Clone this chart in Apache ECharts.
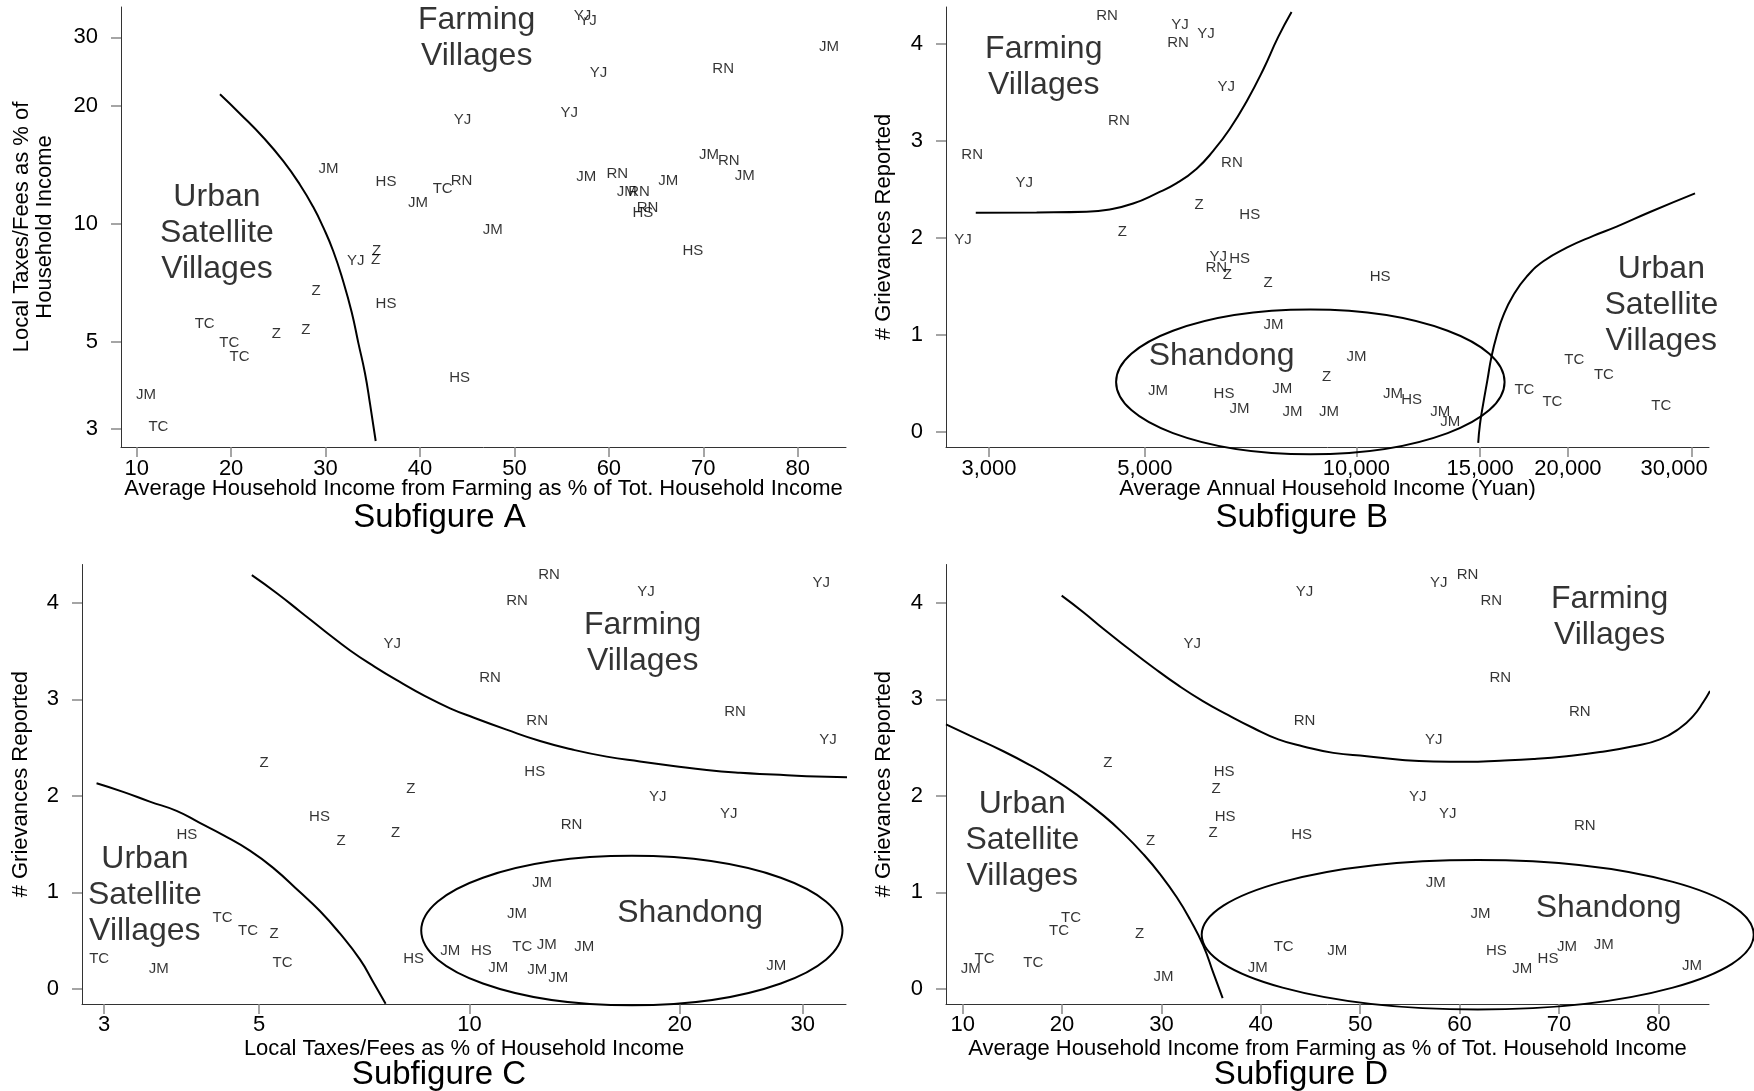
<!DOCTYPE html>
<html>
<head>
<meta charset="utf-8">
<title>Subfigures A-D</title>
<script src="https://cdn.jsdelivr.net/npm/echarts@6/dist/echarts.min.js"></script>
<style>
html, body { margin: 0; padding: 0; background: #fff; }
#main { width: 1754px; height: 1091px; }
</style>
</head>
<body>
<div id="main"></div>
<script>
var FONT = '"Liberation Sans", Arial, sans-serif';

// Subfigure A: farming share of income vs local taxes/fees
var aLabel = ['YJ','JM','HS','TC','RN','JM','YJ','Z','Z','Z','HS','TC','Z','Z','TC','TC','HS','JM','TC',
	'YJ','YJ','YJ','JM','RN','YJ','JM','RN','JM','JM','RN','JM','JM','RN','RN','HS','JM','HS'];
var aFarm = [44.5,30.3,36.4,42.4,44.4,39.8,33.2,35.4,35.3,29.0,36.4,17.2,24.8,27.9,19.8,20.9,44.2,11.0,12.3,
	57.2,57.8,58.9,83.3,72.1,55.8,70.6,72.7,74.4,57.6,60.9,66.3,61.9,63.2,64.1,63.6,47.7,68.9];
var aTax = [18.5,13.8,12.8,12.3,12.9,11.3,8.03,8.53,8.11,6.75,6.25,5.55,5.25,5.38,4.97,4.59,4.05,3.67,3.03,
	34.1,33.1,24.4,28.4,24.9,19.2,15.0,14.5,13.3,13.2,13.4,12.9,12.1,12.1,11.0,10.7,9.65,8.55];
var aCurveX = [18.82,20.94,23.41,25.53,27.29,28.70,29.76,30.82,31.88,32.77,33.47,34.18,34.71,35.31];
var aCurveY = [21.45,19.14,16.64,14.47,12.60,11.05,9.80,8.52,7.12,5.95,4.97,4.15,3.47,2.79];

// Subfigure B: household income vs grievances
var bLabel = ['RN','YJ','RN','YJ','YJ','RN','RN','YJ','RN','Z','HS','Z','YJ','YJ','HS','RN','Z','Z','JM','JM','HS','JM','JM','JM','JM','Z',
	'HS','JM','JM','HS','JM','JM','TC','TC','TC','TC','TC'];
var bIncome = [4416,5610,5575,6110,6530,4592,2839,3367,6650,5970,7050,4645,2755,6360,6820,6320,6550,7490,7620,5220,6480,6820,7840,8110,9140,9070,
	10810,10000,11270,11980,13160,13600,17340,19010,20420,22500,27160];
var bGriev = [4.29,4.20,4.01,4.10,3.56,3.21,2.86,2.57,2.77,2.34,2.24,2.06,1.98,1.81,1.78,1.69,1.62,1.54,1.10,0.42,0.39,0.24,0.45,0.21,0.21,0.57,
	1.60,0.77,0.39,0.33,0.21,0.10,0.43,0.31,0.74,0.59,0.27];
var bCurve1X = [2873,3507,4130,4457,4811,5196,5550,5925,6255,6603,6975,7370,7737,8085];
var bCurve1Y = [2.26,2.264,2.271,2.295,2.355,2.46,2.565,2.715,2.898,3.124,3.405,3.737,4.07,4.33];
var bCurve2X = [14905,14990,15150,15360,15570,15830,16180,16720,17470,18450,19920,21730,23460,26170,30330];
var bCurve2Y = [-0.112,0.080,0.290,0.535,0.780,0.990,1.200,1.410,1.602,1.760,1.900,2.022,2.117,2.268,2.460];

// Subfigure C: local taxes/fees vs grievances
var cLabel = ['YJ','Z','Z','HS','Z','Z','HS','TC','TC','Z','TC','JM','TC','HS','JM',
	'RN','RN','YJ','YJ','RN','RN','RN','YJ','HS','YJ','YJ','RN','JM','JM','HS','TC','JM','JM','JM','JM','JM','JM'];
var cTax = [7.75,5.08,8.24,6.10,6.55,7.84,3.94,4.43,4.82,5.25,2.95,3.59,5.40,8.32,9.39,
	13.0,11.7,17.9,31.9,10.7,12.5,24.0,32.6,12.4,18.6,23.5,14.0,12.7,11.7,10.4,11.9,12.9,14.6,11.0,12.5,13.4,27.5];
var cGriev = [3.57,2.34,2.07,1.78,1.53,1.62,1.60,0.74,0.60,0.57,0.31,0.21,0.27,0.31,0.39,
	4.29,4.02,4.11,4.21,3.22,2.78,2.87,2.58,2.25,1.99,1.81,1.70,1.10,0.78,0.39,0.43,0.45,0.43,0.22,0.20,0.11,0.24];
var cCurve1X = [4.88,5.30,5.72,6.21,6.74,7.32,7.95,8.64,9.38,10.13,11.30,12.62,14.08,15.72,17.54,19.58,21.86,24.40,27.23,30.39,34.86];
var cCurve1Y = [4.287,4.100,3.911,3.706,3.509,3.337,3.180,3.033,2.907,2.812,2.686,2.568,2.477,2.406,2.356,2.310,2.267,2.238,2.220,2.202,2.192];
var cCurve2X = [2.925,3.193,3.486,3.808,4.111,4.441,4.849,5.236,5.718,6.108,6.524,6.969,7.28,7.585];
var cCurve2Y = [2.130,2.041,1.940,1.844,1.719,1.593,1.432,1.253,1.002,0.806,0.573,0.304,0.071,-0.155];

// Subfigure D: farming share of income vs grievances
var dLabel = ['YJ','YJ','RN','Z','HS','Z','HS','Z','HS','Z','TC','TC','Z','TC','JM','TC','JM','TC','JM','JM',
	'YJ','RN','RN','RN','RN','YJ','YJ','YJ','RN','JM','JM','HS','JM','HS','JM','JM','JM'];
var dFarm = [44.4,33.1,44.4,24.6,36.3,35.5,36.4,35.2,44.1,28.9,20.9,19.7,27.8,12.2,10.8,17.1,30.2,42.3,39.7,47.7,
	57.9,60.8,63.2,64.1,72.1,57.4,55.8,58.8,72.6,57.6,62.1,63.7,66.3,68.9,70.8,74.5,83.4];
var dGriev = [4.11,3.57,2.78,2.34,2.25,2.07,1.78,1.62,1.60,1.53,0.74,0.60,0.57,0.31,0.21,0.27,0.12,0.43,0.22,0.39,
	4.21,4.29,4.02,3.22,2.87,2.58,1.99,1.81,1.69,1.10,0.78,0.39,0.21,0.31,0.43,0.45,0.24];
var dCurve1X = [19.96,22.14,24.15,26.67,29.18,31.70,34.21,36.73,39.24,41.76,44.28,47.30,50.66,54.01,57.36,60.72,64.07,67.42,70.78,74.13,77.49,80.17,82.18,83.52,84.53,85.20];
var dCurve1Y = [4.075,3.903,3.731,3.527,3.330,3.144,2.979,2.836,2.703,2.585,2.512,2.445,2.410,2.374,2.356,2.353,2.364,2.381,2.410,2.453,2.514,2.585,2.703,2.829,2.972,3.087];
var dCurve2X = [8.32,10.73,14.09,16.77,19.12,21.47,24.15,26.16,28.17,29.86,31.54,32.87,34.21,35.22,36.16];
var dCurve2Y = [2.740,2.624,2.462,2.318,2.176,2.012,1.797,1.610,1.396,1.189,0.948,0.719,0.447,0.164,-0.097];

// tick values
var farmTicks = [10,20,30,40,50,60,70,80];
var taxTicks = [3,5,10,20,30];
var incomeTicks = [3000,5000,10000,15000,20000,30000];
var grievTicks = [0,1,2,3,4];

// region names: [grid, x, y, text]
var regions = [
	[0, 46.0, 29.9, 'Farming\nVillages'], [0, 18.5, 9.48, 'Urban\nSatellite\nVillages'],
	[1, 3590, 3.76, 'Farming\nVillages'], [1, 6430, 0.78, 'Shandong'], [1, 27160, 1.31, 'Urban\nSatellite\nVillages'],
	[2, 17.7, 3.58, 'Farming\nVillages'], [2, 20.7, 0.78, 'Shandong'], [2, 3.43, 0.97, 'Urban\nSatellite\nVillages'],
	[3, 75.1, 3.85, 'Farming\nVillages'], [3, 75.0, 0.84, 'Shandong'], [3, 16.0, 1.54, 'Urban\nSatellite\nVillages']
];
// Shandong ellipses as data boxes: [grid, xLeft, xRight, yBottom, yTop]
var ellipses = [
	[1, 4550, 16250, -0.229, 1.263],
	[2, 8.53, 34.2, -0.172, 1.378],
	[3, 34.05, 89.6, -0.215, 1.335]
];

function pts(names, xs, ys) {
	var out = [];
	for (var i = 0; i < names.length; i++) {
		out.push({ name: names[i], value: [xs[i], ys[i]] });
	}
	return out;
}

function pairs(xs, ys) {
	var out = [];
	for (var i = 0; i < xs.length; i++) out.push([xs[i], ys[i]]);
	return out;
}

function thousands(v) {
	return String(Math.round(v)).replace(/\B(?=(\d{3})+(?!\d))/g, ',');
}

// last income label is pulled left so it stays inside the plot, as in the original
function incomeLabel(v) {
	var s = thousands(v);
	return v >= 30000 ? '{r|' + s + '}' : s;
}

function axis(idx, type, min, max, ticks, name, gap, margin, fmt) {
	var a = {
		type: type, gridIndex: idx, min: min, max: max,
		name: name, nameLocation: 'middle', nameGap: gap, nameMoveOverlap: false,
		nameTextStyle: { fontSize: 22, fontFamily: FONT, color: '#000', lineHeight: 23 },
		axisLine: { show: true, onZero: false, lineStyle: { color: '#333', width: 1 } },
		axisTick: { show: true, inside: false, length: 10, customValues: ticks, lineStyle: { color: '#888', width: 1.5 } },
		axisLabel: { show: true, customValues: ticks, margin: margin, fontSize: 22, fontFamily: FONT, color: '#000' },
		splitLine: { show: false },
		axisPointer: { show: false }
	};
	if (type === 'log') a.logBase = 10;
	if (fmt) a.axisLabel.formatter = fmt;
	return a;
}

function labelSeries(idx, data) {
	return {
		type: 'scatter', xAxisIndex: idx, yAxisIndex: idx, data: data,
		symbol: 'circle', symbolSize: 1, itemStyle: { color: 'rgba(0,0,0,0)' },
		silent: true, z: 3,
		label: { show: true, position: 'inside', formatter: '{b}', color: '#000', fontSize: 15, fontFamily: FONT }
	};
}

function curveSeries(idx, xs, ys) {
	return {
		type: 'line', xAxisIndex: idx, yAxisIndex: idx, data: pairs(xs, ys),
		smooth: 0.5, symbol: 'none', clip: false, silent: true, z: 4,
		lineStyle: { color: '#000', width: 2 }
	};
}

var chart = echarts.init(document.getElementById('main'));

var grids = [
	{ left: 121, top: 7, width: 725, height: 440 },
	{ left: 946, top: 7, width: 763, height: 440 },
	{ left: 82, top: 564.5, width: 764, height: 439.5 },
	{ left: 946, top: 564.5, width: 763, height: 439.5 }
];
grids.forEach(function (g) { g.outerBoundsMode = 'none'; g.containLabel = false; });

var xAxes = [
	axis(0, 'value', 8.34, 85.11, farmTicks, 'Average Household Income from Farming as % of Tot. Household Income', 30, 11),
	axis(1, 'log', 2606, 31750, incomeTicks, 'Average Annual Household Income (Yuan)', 30, 11, incomeLabel),
	axis(2, 'log', 2.788, 34.6, taxTicks, 'Local Taxes/Fees as % of Household Income', 33, 10),
	axis(3, 'value', 8.32, 85.1, farmTicks, 'Average Household Income from Farming as % of Tot. Household Income', 33, 10)
];
xAxes[1].axisLabel.rich = { r: { fontSize: 22, fontFamily: FONT, color: '#000', padding: [0, 35, 0, 0] } };

var yAxes = [
	axis(0, 'log', 2.693, 35.85, taxTicks, 'Local Taxes/Fees as % of\nHousehold Income', 65, 23),
	axis(1, 'value', -0.154, 4.381, grievTicks, '# Grievances Reported', 51, 23),
	axis(2, 'value', -0.158, 4.3975, grievTicks, '# Grievances Reported', 50, 23),
	axis(3, 'value', -0.158, 4.3975, grievTicks, '# Grievances Reported', 51, 23)
];

var series = [
	labelSeries(0, pts(aLabel, aFarm, aTax)),
	labelSeries(1, pts(bLabel, bIncome, bGriev)),
	labelSeries(2, pts(cLabel, cTax, cGriev)),
	labelSeries(3, pts(dLabel, dFarm, dGriev)),
	curveSeries(0, aCurveX, aCurveY),
	curveSeries(1, bCurve1X, bCurve1Y),
	curveSeries(1, bCurve2X, bCurve2Y),
	curveSeries(2, cCurve1X, cCurve1Y),
	curveSeries(2, cCurve2X, cCurve2Y),
	curveSeries(3, dCurve1X, dCurve1Y),
	curveSeries(3, dCurve2X, dCurve2Y)
];

// big region captions
for (var g = 0; g < 4; g++) {
	var rd = [];
	regions.forEach(function (r) {
		if (r[0] === g) rd.push({ name: r[3], value: [r[1], r[2]] });
	});
	series.push({
		type: 'scatter', xAxisIndex: g, yAxisIndex: g, data: rd,
		symbol: 'circle', symbolSize: 1, itemStyle: { color: 'rgba(0,0,0,0)' },
		silent: true, z: 3,
		label: { show: true, position: 'inside', formatter: '{b}', color: '#000', fontSize: 32, lineHeight: 36, fontFamily: FONT }
	});
}

function subTitle(text, cx, top) {
	return {
		text: text, left: cx, top: top, textAlign: 'center',
		textStyle: { fontSize: 33, lineHeight: 33, fontWeight: 'normal', fontFamily: FONT, color: '#000' }
	};
}

chart.setOption({
	animation: false,
	backgroundColor: '#fff',
	title: [
		subTitle('Subfigure A', 434.5, 496.5),
		subTitle('Subfigure B', 1296.7, 496.5),
		subTitle('Subfigure C', 434, 1053.5),
		subTitle('Subfigure D', 1296, 1053.5)
	],
	grid: grids,
	xAxis: xAxes,
	yAxis: yAxes,
	series: series
});

// Shandong ellipses, placed from their data boxes
var shapes = ellipses.map(function (e) {
	var f = { xAxisIndex: e[0], yAxisIndex: e[0] };
	var p0 = chart.convertToPixel(f, [e[1], e[4]]);
	var p1 = chart.convertToPixel(f, [e[2], e[3]]);
	return {
		type: 'ellipse', silent: true, z: 5,
		shape: { cx: (p0[0] + p1[0]) / 2, cy: (p0[1] + p1[1]) / 2, rx: Math.abs(p1[0] - p0[0]) / 2, ry: Math.abs(p1[1] - p0[1]) / 2 },
		style: { fill: null, stroke: '#000', lineWidth: 2 }
	};
});
chart.setOption({ graphic: shapes });
</script>
</body>
</html>
